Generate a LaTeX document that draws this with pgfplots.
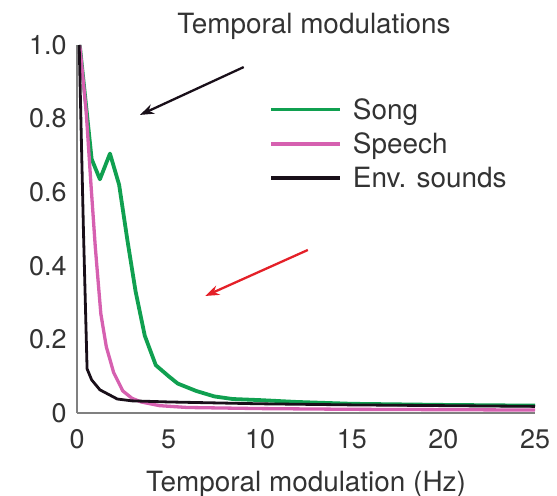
\documentclass[border=0pt]{standalone}
\usepackage{pgfplots}
\pgfplotsset{compat=1.18}
\usepackage{fontspec}
\setmainfont{TeX Gyre Heros}
\usetikzlibrary{arrows.meta}

\definecolor{songgreen}{RGB}{16,160,80}
\definecolor{speechpink}{RGB}{214,96,176}
\definecolor{envblack}{RGB}{25,15,25}
\definecolor{axisgray}{RGB}{128,128,128}
\definecolor{arrowred}{RGB}{228,32,40}

\begin{document}
\begin{tikzpicture}[font=\fontsize{28}{33}\selectfont]
\begin{axis}[
  name=ax,
  scale only axis,
  width=458bp, height=368bp,
  xmin=0, xmax=25, ymin=0, ymax=1.0,
  axis lines=left,
  axis line style={-, draw=axisgray, line width=2.8bp},
  major tick length=0pt,
  xtick={0,5,10,15,20,25},
  ytick={0,0.2,0.4,0.6,0.8,1.0},
  yticklabels={0,0.2,0.4,0.6,0.8,1.0},
  /pgf/number format/assume math mode=true,
  tick label style={font=\fontsize{27}{32}\selectfont, text=black!80},
  xticklabel style={yshift=-13bp},
  yticklabel style={xshift=-7bp},
  xlabel={Temporal modulation (Hz)},
  xlabel style={at={(rel axis cs:0.5,0)}, anchor=center, yshift=-71bp, text=black!80},
  title={Temporal modulations},
  title style={at={(rel axis cs:0.5,1)}, anchor=center, yshift=13bp, xshift=8bp, text=black!80},
  legend style={at={(0.413,0.866)}, anchor=north west, draw=none, fill=none,
    font=\fontsize{28}{33}\selectfont, text=black!80, row sep=8bp, column sep=9bp},
  legend cell align=left,
  legend image code/.code={\draw[#1, line width=3.6bp] (0bp,0bp) -- (69bp,0bp);},
]
% Song
\addplot[songgreen, line width=3.8bp, line join=round] coordinates {
  (0.15,1.0) (0.8,0.69) (1.25,0.635) (1.8,0.705) (2.3,0.62) (2.75,0.47)
  (3.2,0.33) (3.7,0.21) (4.3,0.13) (5,0.1) (5.5,0.08) (6.5,0.06)
  (7.5,0.045) (8.5,0.038) (10,0.035) (12,0.03) (15,0.025) (20,0.022) (25,0.02)
};
\addlegendentry{Song}
% Speech
\addplot[speechpink, line width=3.3bp, line join=round] coordinates {
  (0.15,1.0) (0.5,0.82) (0.75,0.63) (1.0,0.45) (1.3,0.27) (1.6,0.18)
  (2.0,0.11) (2.5,0.06) (3.0,0.04) (3.5,0.03) (4.5,0.02) (6,0.015)
  (10,0.012) (15,0.01) (25,0.008)
};
\addlegendentry{Speech}
% Environmental sounds
\addplot[envblack, line width=2.8bp, line join=round] coordinates {
  (0.12,1.0) (0.35,0.5) (0.55,0.12) (0.8,0.09) (1.25,0.063) (2.2,0.038)
  (3,0.033) (5,0.03) (10,0.025) (15,0.022) (25,0.018)
};
\addlegendentry{Env. sounds}

\draw[envblack, line width=2.3bp, -{Stealth[length=14bp,width=10bp]}]
  (axis cs:9.1,0.94) -- (axis cs:3.44,0.81);
\draw[arrowred, line width=2.3bp, -{Stealth[length=14bp,width=10bp]}]
  (axis cs:12.6,0.443) -- (axis cs:7.0,0.318);
\end{axis}
\pgfresetboundingbox
\path[use as bounding box] (ax.south west) ++(-77bp,-83bp) rectangle ++(557bp,496bp);
\end{tikzpicture}
\end{document}
